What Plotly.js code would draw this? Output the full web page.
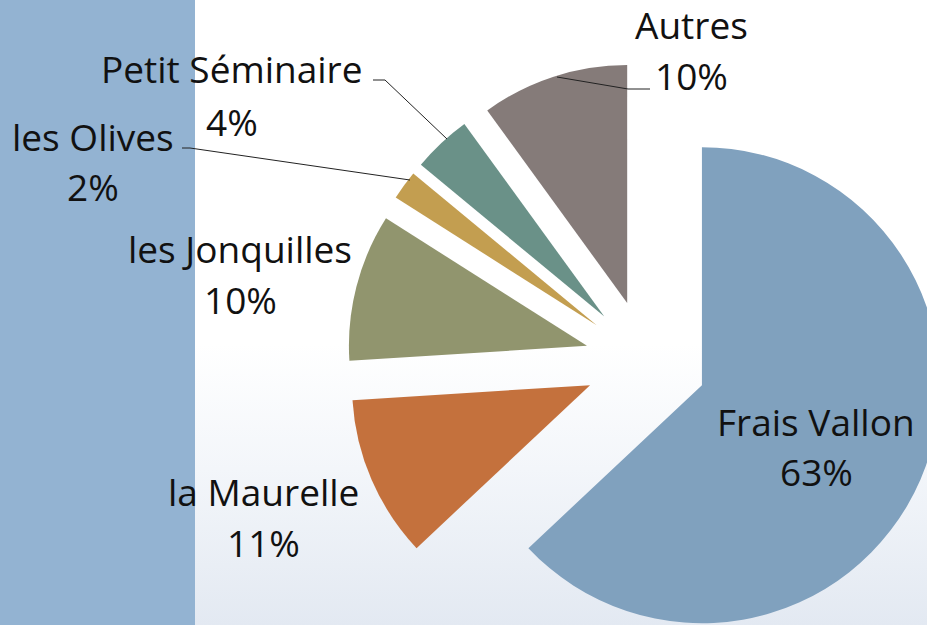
<!DOCTYPE html>
<html>
<head>
<meta charset="utf-8">
<script src="https://cdn.plot.ly/plotly-3.0.1.min.js"></script>
<style>
  html, body { margin:0; padding:0; width:927px; height:625px; overflow:hidden; }
  #bg { position:absolute; left:0; top:0; width:927px; height:625px;
        background: linear-gradient(180deg, #ffffff 0%, #ffffff 55%, #f3f6fa 75%, #e3e9f2 100%); }
  #band { position:absolute; left:0; top:0; width:195px; height:625px; background:#93b3d2; }
  #chart { position:absolute; left:0; top:0; width:1100px; height:800px; }
</style>
</head>
<body>
<div id="bg"></div>
<div id="band"></div>
<div id="chart"></div>
<script>
// ---- data ----
const labels = ["Frais Vallon", "la Maurelle", "les Jonquilles", "les Olives", "Petit Séminaire", "Autres"];
const values = [63, 11, 10, 2, 4, 10];
const colors = ["#80a1be", "#c4713d", "#91956e", "#c39e50", "#6a9188", "#857b79"];

// ---- layout helpers (pixel -> paper) ----
const W = 1100, H = 800;
const px = x => x / W;
const py = y => 1 - y / H;

const total = values.reduce((a, b) => a + b, 0);
const pct = values.map(v => Math.round(v / total * 100) + "%");

// label placement (pixel centres of text lines) : [x, yLabelLine, yPctLine]
const labelPos = [
  [816, 421, 471],
  [263, 491, 542],
  [240, 248, 299],
  [93, 136, 186],
  [232, 69, 121],
  [691, 24, 76]
];

const cx = 646, cy = 361, half = 299;
const pull = 0.256;
const fontSize = 37;

const annotations = [];
labels.forEach((lab, i) => {
  const [x, y1, y2] = labelPos[i];
  annotations.push({xref:'paper', yref:'paper', x:px(x), y:py(y1), text:lab, showarrow:false,
    xanchor:'center', yanchor:'middle', font:{family:'Open Sans', size:fontSize, color:'#111'}});
  annotations.push({xref:'paper', yref:'paper', x:px(x), y:py(y2), text:pct[i], showarrow:false,
    xanchor:'center', yanchor:'middle', font:{family:'Open Sans', size:fontSize, color:'#111'}});
});

// leader lines
const leaders = [
  [[650, 89], [628, 89], [557, 77]],
  [[373, 80], [385, 80], [447, 139]],
  [[182, 148], [190, 148], [410, 180]]
];
const shapes = leaders.map(pts => ({
  type:'path', xref:'paper', yref:'paper',
  path: pts.map((p, k) => (k ? 'L' : 'M') + px(p[0]) + ',' + py(p[1])).join(' '),
  line:{color:'#222', width:1}
}));

const trace = {
  type:'pie',
  labels: labels,
  values: values,
  sort:false,
  direction:'clockwise',
  rotation:0,
  pull: values.map(() => pull),
  marker:{colors: colors, line:{width:0}},
  textinfo:'none',
  hoverinfo:'none',
  showlegend:false,
  domain:{x:[px(cx - half), px(cx + half)], y:[py(cy + half), py(cy - half)]}
};

Plotly.newPlot('chart', [trace], {
  width: W, height: H,
  margin:{l:0, r:0, t:0, b:0},
  paper_bgcolor:'rgba(0,0,0,0)',
  plot_bgcolor:'rgba(0,0,0,0)',
  showlegend:false,
  annotations: annotations,
  shapes: shapes
}, {displayModeBar:false, staticPlot:true});
</script>
</body>
</html>
